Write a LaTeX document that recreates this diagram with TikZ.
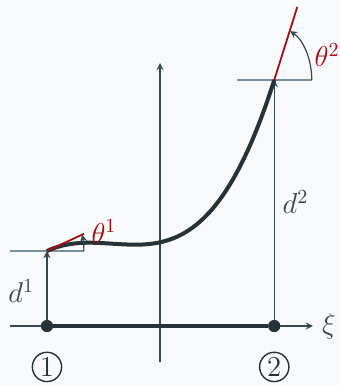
\documentclass[tikz,border=0pt]{standalone}
\usepackage{amsmath}
\begin{document}
\begin{tikzpicture}[
  font=\Large,
  axis/.style={draw=axgray, line width=0.6pt},
  lvl/.style={draw=lvlgray, line width=0.6pt},
  beam/.style={draw=beamdark, line width=2.4pt},
  curve/.style={draw=beamdark, line width=2pt},
  dot/.style={circle, fill=beamdark, inner sep=0pt, minimum size=0.21cm},
  numcirc/.style={circle, draw=beamdark, line width=0.7pt, inner sep=1pt},
  rot/.style={draw=angred, line width=0.9pt},
  lbl/.style={text=axgray},
  >=stealth
]
  \definecolor{beamdark}{HTML}{263238}
  \definecolor{axgray}{HTML}{37474F}
  \definecolor{lvlgray}{HTML}{78909C}
  \definecolor{angred}{HTML}{A50E0E}
  \definecolor{bggray}{HTML}{F8F9FA}

  \fill[bggray] (-0.827,-1.038) rectangle (5.157,5.738);
  \useasboundingbox (-0.827,-1.038) rectangle (5.157,5.738);

  % ================= AXES =================
  \coordinate (xil) at (-0.65,0);
  \coordinate (xir) at (4.68,0);
  \coordinate (vb) at (1.99,-0.63);
  \coordinate (vt) at (1.99,4.63);
  \draw[->, axis] (xil) -- (xir) node[right=1pt, lbl] (xi) {$\xi$};
  \draw[->, axis] (vb) -- (vt);

  % ================= ELEMENT =================
  \node[dot] (n1) at (0,0) {};
  \node[dot] (n2) at (4.0,0) {};
  \draw[beam] (n1) -- (n2);
  \node[dot] at (n1) {};
  \node[dot] at (n2) {};
  \node[numcirc, text=beamdark] (c1) at (0,-0.72) {1};
  \node[numcirc, text=beamdark] (c2) at (4.0,-0.72) {2};

  % ================= DISPLACEMENTS =================
  \coordinate (p1) at (0,1.32);
  \coordinate (p2) at (4.0,4.33);
  \coordinate (h1a) at (-0.65,1.32);
  \coordinate (h1b) at (0.65,1.32);
  \coordinate (h2a) at (3.34,4.33);
  \coordinate (h2b) at (4.66,4.33);
  \draw[lvl] (h1a) -- (h1b);
  \draw[lvl] (h2a) -- (h2b);
  \draw[->, axis] (n1) -- (p1) node[pos=0.42, left=0.1cm, lbl] (d1) {$d^1$};
  \draw[->, axis] (n2) -- (p2) node[pos=0.49, right=0.02cm, lbl] (d2) {$d^2$};

  % deflected shape
  \draw[curve] (p1) .. controls (1.33,1.94) and (2.66,0.11) .. (p2);

  % ================= ROTATIONS =================
  \draw[rot] (p1) -- ++(25:0.72);
  \draw[->, axis] (h1b) arc[start angle=0, end angle=18, x radius=0.65, y radius=0.93];
  \node[text=angred, anchor=west] (t1) at (0.66,1.66) {$\theta^1$};

  \draw[rot] (p2) -- ++(72.5:1.35);
  \draw[->, axis] (h2b) arc[start angle=0, end angle=65, x radius=0.66, y radius=0.95];
  \node[text=angred] (t2) at (4.93,4.77) {$\theta^2$};
\end{tikzpicture}
\end{document}
